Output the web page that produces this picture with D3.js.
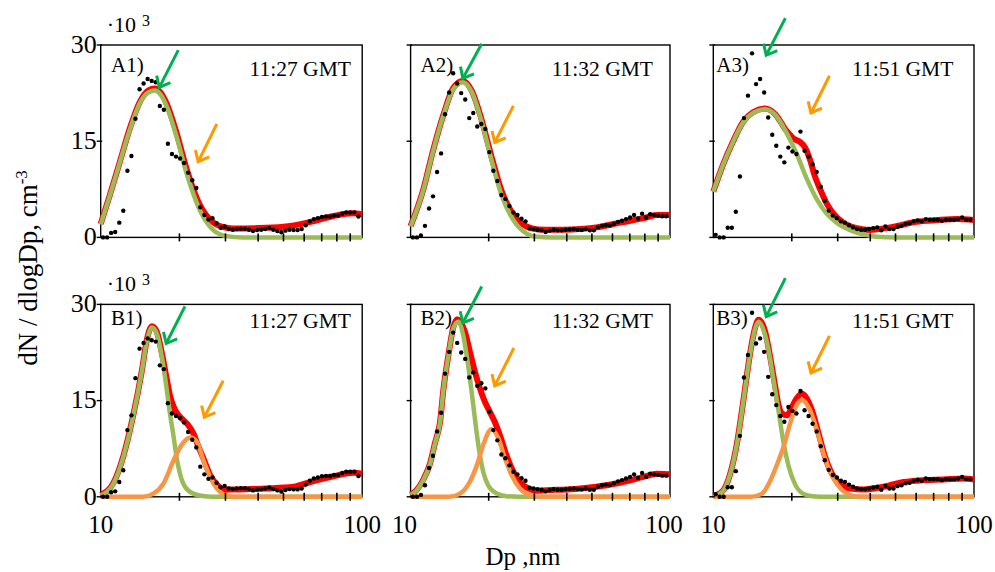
<!DOCTYPE html>
<html>
<head>
<meta charset="utf-8">
<script src="https://cdn.jsdelivr.net/npm/d3@7"></script>
<style>
  html, body { margin: 0; padding: 0; background: #ffffff; }
  svg { display: block; font-family: "Liberation Serif", "Times New Roman", serif; }
</style>
</head>
<body>
<svg id="chart" width="995" height="572"></svg>
<script>
// SMPS channel mid-point diameters (nm), 64 channels per decade
const dpChannels = [10.21,10.58,10.96,11.36,11.78,12.20,12.65,13.11,13.58,14.08,14.59,15.12,15.67,16.24,16.83,17.44,
  18.07,18.73,19.41,20.12,20.84,21.60,22.39,23.20,24.04,24.92,25.82,26.76,27.73,28.74,29.79,30.87,
  31.99,33.15,34.36,35.60,36.90,38.24,39.63,41.07,42.56,44.11,45.71,47.37,49.09,50.87,52.72,54.64,
  56.62,58.68,60.81,63.02,65.31,67.68,70.15,72.69,75.34,78.07,80.91,83.85,86.90,90.05,93.33,96.72];

// Measured dN/dlogDp (x10^3 cm-3) per scan time
const dots1127 = [0,0,0.7,0.85,2.3,4.15,10.4,12.7,18.5,23.1,24.0,24.7,24.4,24.2,20.5,19.9,
  14.6,13.0,12.6,12.3,11.6,10.1,8.9,7.7,4.7,3.5,2.8,3.0,2.2,1.5,1.7,1.3,
  1.2,1.3,1.35,1.35,1.2,1.0,1.15,1.2,1.3,1.45,1.2,1.0,0.8,1.05,1.2,1.15,
  1.15,1.3,1.9,2.5,2.85,3.0,3.2,3.25,3.25,3.4,3.4,3.7,3.9,3.9,3.9,3.25];
const dots1132 = [0,0,0.3,1.8,4.5,6.4,10.2,13.1,19.2,22.6,25.6,24.0,22.5,21.5,18.6,19.4,
  17.3,17.7,16.9,13.3,10.4,8.8,6.6,6.0,4.9,3.9,3.5,2.9,2.5,1.4,1.3,1.2,
  1.1,0.85,1.05,1.2,1.1,1.1,1.2,1.25,1.3,1.2,1.15,1.3,1.1,1.1,1.56,1.8,
  1.9,1.86,2.1,2.4,2.6,2.85,3.1,3.5,2.95,3.7,3.1,3.6,3.5,3.4,3.3,3.3];
const dots1151 = [0.4,0,0,1.5,1.5,4.0,9.5,18.6,22.1,28.7,23.9,24.7,22.6,18.7,16.0,14.3,
  12.6,11.7,14.0,13.4,13.0,16.5,13.5,12.6,11.4,10.2,7.9,5.7,4.2,3.4,3.0,2.5,
  2.3,1.9,1.56,1.3,1.2,1.2,1.3,1.45,1.56,1.1,1.7,1.3,1.3,1.66,1.8,2.1,
  2.2,2.5,2.65,2.5,2.85,2.75,2.75,2.75,2.6,2.75,2.75,2.75,2.85,3.1,2.75,2.75];

// Fitted curves, [Dp nm, dN/dlogDp x10^3]
const greenA1 = [[10,2.0],[10.8,6.3],[11.8,11.5],[12.9,16.7],[14.1,20.9],[15.2,22.6],[16.1,22.9],[17,22.2],[17.9,20.4],[19.5,15.7],[21.3,10.0],[23.9,4.3],[27,1.1],[30.3,0.2],[35,0],[100,0]];
const redA1 = [[10,2.1],[10.8,6.4],[11.8,11.6],[12.9,16.9],[14.1,21.1],[15.2,22.9],[16.1,23.2],[17,22.5],[17.9,20.8],[19.5,16.3],[21.3,10.7],[23.9,5.1],[27,2.3],[30.3,1.5],[32,1.4],[40,1.45],[50,1.65],[63,2.4],[77,3.3],[92,3.75],[100,3.6]];
const greenA2 = [[10,1.7],[11.2,7.4],[12.2,13.4],[13.4,19.1],[14.6,23.1],[15.9,24.2],[17.2,22.7],[18.8,18.0],[20.5,12.1],[22.4,6.6],[24.9,2.7],[28,0.6],[30.6,0.1],[35,0],[100,0]];
const redA2 = [[10,1.75],[11.2,7.5],[12.2,13.5],[13.4,19.2],[14.6,23.3],[15.9,24.4],[17.2,22.9],[18.8,18.3],[20.5,12.6],[22.4,7.3],[24.9,3.5],[28,1.7],[31,1.25],[35,1.2],[42,1.25],[52,1.56],[64,2.3],[79,3.0],[89,3.5],[100,3.5]];
const greenA3 = [[10,7.1],[10.9,11.3],[11.9,14.9],[13,17.9],[14.2,19.4],[15.8,20.0],[17.3,19.1],[19.1,16.3],[20.9,13.0],[22.8,9.2],[24.9,6.0],[27.2,3.7],[29.7,2.3],[33.5,1.14],[37.6,0.47],[42.4,0.1],[50,0],[100,0]];
const redA3 = [[10,7.15],[10.9,11.35],[11.9,14.95],[13,18.0],[14.2,19.5],[15.8,20.1],[17.3,19.2],[19.1,16.6],[20.5,15.3],[21.5,14.9],[22.5,14.0],[23.5,12.1],[24.5,9.6],[25.7,7.5],[27.2,5.3],[28.9,3.7],[31.5,2.3],[35.5,1.45],[40,1.15],[42.4,1.25],[50.5,1.77],[60,2.44],[72,2.7],[86,2.86],[100,2.7]];
const greenB1 = [[10,0.2],[11.2,2.1],[12.2,6.2],[13.3,12.5],[14.4,19.8],[15,24.2],[15.7,26.4],[16.4,25.4],[17.1,22.0],[17.6,18.8],[18.4,13.0],[19,9.4],[19.5,6.2],[20.1,3.6],[21,1.56],[22.6,0.5],[25,0.1],[28,0],[100,0]];
const orangeB1 = [[10,0],[14.5,0],[15.9,0.5],[17.4,2.1],[19,5.7],[20.4,8.1],[22,9.25],[23.3,8.6],[24.7,5.7],[26.2,3.1],[27.8,1.3],[29.5,0.36],[32,0],[100,0]];
const redB1 = [[10,0.3],[11.2,2.2],[12.2,6.3],[13.3,12.6],[14.4,19.9],[15,24.4],[15.7,26.6],[16.4,25.7],[17.1,22.6],[17.9,18.3],[18.4,15.8],[19.2,13.6],[20.4,12.2],[21.6,11.2],[22.6,9.9],[23.6,7.9],[24.7,6.0],[26.2,3.4],[27.8,1.9],[30,1.1],[32.2,1.14],[43,1.3],[54.6,1.56],[63.2,2.3],[77.6,3.2],[92.7,3.74],[100,3.6]];
const greenB2 = [[10,0.3],[10.55,1.0],[11.2,2.6],[11.9,5.2],[12.4,8.2],[13,11.7],[13.36,16.4],[14,22.1],[14.6,26.2],[15.26,27.3],[15.95,25.2],[16.44,22.1],[16.93,18.5],[17.44,14.3],[17.96,10.1],[18.5,6.5],[19.05,3.9],[19.9,1.8],[21.5,0.5],[23.4,0.1],[26,0],[100,0]];
const orangeB2 = [[10,0],[14.1,0],[15.5,0.5],[16.9,2.3],[18,4.9],[19.05,8.1],[20.5,10.55],[21.8,9.1],[23.1,6.0],[24.5,3.4],[26.4,1.3],[28.8,0.26],[31,0],[100,0]];
const redB2 = [[10,0.35],[10.55,1.05],[11.2,2.7],[11.9,5.3],[12.4,8.3],[13,11.8],[13.36,16.5],[14,22.2],[14.6,26.4],[15.1,27.7],[16.2,25.7],[16.93,22.6],[17.7,19.5],[18.5,16.9],[19.34,14.8],[20.2,13.25],[21.1,11.7],[22.1,9.6],[23.4,6.5],[24.9,3.9],[26.4,2.3],[28.4,1.3],[30.6,0.94],[33.5,1.04],[40,1.14],[52,1.56],[64,2.2],[79,3.1],[89,3.6],[100,3.5]];
const greenB3 = [[10,0.1],[10.3,0.26],[10.95,1.0],[11.62,3.6],[12.33,8.3],[13.06,15.1],[13.86,22.4],[14.49,26.3],[14.92,27.3],[15.58,26.0],[16.29,22.9],[17.02,18.2],[17.8,13.3],[18.6,8.4],[19.44,4.8],[20.62,1.9],[22.2,0.45],[24,0.1],[27,0],[100,0]];
const orangeB3 = [[10,0],[14,0],[15.37,0.5],[16.53,2.5],[17.54,5.0],[18.6,7.8],[19.72,11.5],[20.8,14.2],[21.87,15.1],[23.5,13.5],[24.96,10.4],[26.46,6.8],[28.07,3.9],[29.78,2.0],[32.5,0.5],[35,0.1],[38,0],[100,0]];
const redB3 = [[10,0.15],[10.3,0.3],[10.95,1.05],[11.62,3.65],[12.33,8.4],[13.06,15.2],[13.86,22.5],[14.49,26.5],[14.92,27.6],[15.82,25.7],[16.53,21.8],[17.28,17.2],[17.8,14.3],[18.33,13.0],[19.16,12.7],[20.03,14.0],[20.93,15.4],[21.87,16.1],[22.86,15.3],[23.9,13.5],[25.33,9.9],[26.86,6.2],[28.5,3.6],[30.67,2.0],[33.5,1.3],[37.6,1.14],[44.9,1.56],[53.6,2.3],[63.9,2.6],[76.3,2.7],[91,2.86],[100,2.7]];

// Arrow annotations: [tip Dp, tip value, tail Dp, tail value]
const arrowGreen = [[16.76,23.4,19.8,29.2],[15.9,24.8,18.8,30.2],[15.96,28.4,18.9,34.2],
                    [17.8,23.9,21.0,29.7],[15.9,27.1,18.8,32.8],[15.96,28.1,18.9,34.1]];
const arrowOrange = [[23.6,11.8,27.8,17.7],[21.1,14.8,24.9,20.5],[23.7,19.4,27.9,25.2],
                     [24.9,12.4,29.4,18.1],[21.1,17.3,25.0,23.2],[23.7,19.3,27.9,25.1]];

const panelLabels = ["A1)", "A2)", "A3)", "B1)", "B2)", "B3)"];
const timeLabels = ["11:27 GMT", "11:32 GMT", "11:51 GMT"];
const yTicks = [0, 15, 30];
const xMinorTicks = [20, 30, 40, 50, 60, 70, 80, 90];
const xTickLabels = [10, 100];

const colors = { red: "#ff0000", green: "#9bbb59", orange: "#f79646",
                 arrowGreen: "#00b050", arrowOrange: "#ff9900" };

// layout
const colLeft = [100.7, 410.6, 713.3], colRight = [362.2, 670, 974];
const rowTop = [45, 304.4], rowBottom = [237.4, 496.8];
const labelDx = [10.3, 10, 3], timeDx = [11.3, 17, 20.7];
const labelDy = [26.5, 21], timeDy = [31, 24];
const xLabelShift = [0, -6, 0];

const dotsByCol = [dots1127, dots1132, dots1151];
const panels = [
  { row: 0, col: 0, red: redA1, green: greenA1, orange: null },
  { row: 0, col: 1, red: redA2, green: greenA2, orange: null },
  { row: 0, col: 2, red: redA3, green: greenA3, orange: null },
  { row: 1, col: 0, red: redB1, green: greenB1, orange: orangeB1 },
  { row: 1, col: 1, red: redB2, green: greenB2, orange: orangeB2 },
  { row: 1, col: 2, red: redB3, green: greenB3, orange: orangeB3 }
];

const svg = d3.select("#chart");

panels.forEach((p, i) => {
  const x = d3.scaleLog().domain([10, 100]).range([colLeft[p.col], colRight[p.col]]);
  const y = d3.scaleLinear().domain([0, 30]).range([rowBottom[p.row], rowTop[p.row]]);
  const g = svg.append("g");

  // frame
  g.append("rect")
    .attr("x", x(10)).attr("y", y(30))
    .attr("width", x(100) - x(10)).attr("height", y(0) - y(30))
    .attr("fill", "none").attr("stroke", "#000").attr("stroke-width", 1.4);

  const line = d3.line().x(d => x(d[0])).y(d => y(d[1])).curve(d3.curveMonotoneX);

  g.append("path").attr("d", line(p.red)).attr("fill", "none")
    .attr("stroke", colors.red).attr("stroke-width", 6).attr("stroke-linejoin", "round");
  g.append("path").attr("d", line(p.green)).attr("fill", "none")
    .attr("stroke", colors.green).attr("stroke-width", 4.5).attr("stroke-linejoin", "round");
  if (p.orange) {
    g.append("path").attr("d", line(p.orange)).attr("fill", "none")
      .attr("stroke", colors.orange).attr("stroke-width", 4.5).attr("stroke-linejoin", "round");
  }

  // measured points
  const pts = dotsByCol[p.col].map((v, k) => [dpChannels[k], v]);
  g.selectAll("circle.pt").data(pts).join("circle")
    .attr("class", "pt")
    .attr("cx", d => x(d[0])).attr("cy", d => y(d[1]))
    .attr("r", 2.2).attr("fill", "#000");

  // ticks
  g.selectAll("line.xt").data(xMinorTicks).join("line")
    .attr("class", "xt")
    .attr("x1", d => x(d)).attr("x2", d => x(d))
    .attr("y1", y(0) - 4).attr("y2", y(0) + 4)
    .attr("stroke", "#000").attr("stroke-width", 1.6);
  g.selectAll("line.yt").data(yTicks).join("line")
    .attr("class", "yt")
    .attr("x1", x(10) - 4).attr("x2", x(10) + 1.5)
    .attr("y1", d => y(d)).attr("y2", d => y(d))
    .attr("stroke", "#000").attr("stroke-width", 1.4);

  if (p.col === 0) {
    g.selectAll("text.yl").data(yTicks).join("text")
      .attr("class", "yl")
      .attr("x", x(10) - 4).attr("y", d => y(d))
      .attr("dy", "0.3em").attr("text-anchor", "end")
      .attr("font-size", 26).text(d => d);
    const sci = g.append("text").attr("x", x(10) + 6).attr("y", y(30) - 13)
      .attr("font-size", 22);
    sci.append("tspan").text("·10");
    sci.append("tspan").attr("dx", 6).attr("dy", -6).attr("font-size", 16).text("3");
  }
  if (p.row === 1) {
    g.selectAll("text.xl").data(xTickLabels).join("text")
      .attr("class", "xl")
      .attr("x", d => x(d) + xLabelShift[p.col]).attr("y", y(0) + 36)
      .attr("text-anchor", "middle").attr("font-size", 25).text(d => d);
  }

  // panel tag and scan time
  g.append("text").attr("x", x(10) + labelDx[p.col]).attr("y", y(30) + labelDy[p.row])
    .attr("font-size", 21).text(panelLabels[i]);
  g.append("text").attr("x", x(100) - timeDx[p.col]).attr("y", y(30) + timeDy[p.row])
    .attr("text-anchor", "end").attr("font-size", 21.5).text(timeLabels[p.col]);

  // arrows
  const drawArrow = (a, color) => {
    const tx = x(a[0]), ty = y(a[1]), sx = x(a[2]), sy = y(a[3]);
    const len = Math.hypot(sx - tx, sy - ty);
    const ux = (sx - tx) / len, uy = (sy - ty) / len;
    const ang = 40 * Math.PI / 180, hl = 12;
    const rot = s => [tx + hl * (ux * Math.cos(s) - uy * Math.sin(s)),
                      ty + hl * (ux * Math.sin(s) + uy * Math.cos(s))];
    const h1 = rot(ang), h2 = rot(-ang);
    g.append("line").attr("x1", sx).attr("y1", sy).attr("x2", tx).attr("y2", ty)
      .attr("stroke", color).attr("stroke-width", 3);
    g.append("path").attr("d", `M${h1[0]},${h1[1]}L${tx},${ty}L${h2[0]},${h2[1]}`)
      .attr("fill", "none").attr("stroke", color).attr("stroke-width", 3)
      .attr("stroke-linejoin", "miter");
  };
  drawArrow(arrowGreen[i], colors.arrowGreen);
  drawArrow(arrowOrange[i], colors.arrowOrange);
});

// shared axis titles
const yTitle = svg.append("text")
  .attr("transform", "translate(37,268) rotate(-90)")
  .attr("text-anchor", "middle").attr("font-size", 27);
yTitle.append("tspan").text("dN / dlogDp, cm");
yTitle.append("tspan").attr("dy", -10).attr("font-size", 17).text("-3");

svg.append("text").attr("x", 523).attr("y", 565)
  .attr("text-anchor", "middle").attr("font-size", 25).text("Dp ,nm");
</script>
</body>
</html>
